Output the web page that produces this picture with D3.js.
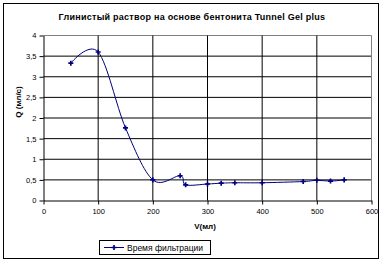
<!DOCTYPE html>
<html>
<head>
<meta charset="utf-8">
<script src="https://cdn.jsdelivr.net/npm/d3@7"></script>
<style>
  body { margin: 0; background: #fff; }
  text { font-family: "Liberation Sans", Arial, sans-serif; fill: #000; }
</style>
</head>
<body>
<div id="chart"></div>
<script>
// data
const volume = [50, 100, 150, 200, 250, 260, 300, 325, 350, 400, 475, 500, 525, 550];
const flow = [3.33, 3.6, 1.76, 0.5, 0.6, 0.38, 0.4, 0.42, 0.43, 0.43, 0.46, 0.49, 0.47, 0.5];
const xTicks = [0, 100, 200, 300, 400, 500, 600];
const yTicks = [0, 0.5, 1, 1.5, 2, 2.5, 3, 3.5, 4];
const title = "Глинистый раствор на основе бентонита Tunnel Gel plus";
const seriesName = "Время фильтрации";

const W = 382, H = 261;
const plot = {left: 43.5, right: 371.5, top: 35.5, bottom: 200.5};
const navy = "#000080";

const svg = d3.select("#chart").append("svg")
    .attr("width", W).attr("height", H);

// outer chart frame
svg.append("rect")
    .attr("x", 3.5).attr("y", 3.5)
    .attr("width", 375).attr("height", 255)
    .attr("fill", "#fff").attr("stroke", "#000");

const x = d3.scaleLinear().domain([0, 600]).range([plot.left, plot.right]);
const y = d3.scaleLinear().domain([0, 4]).range([plot.bottom, plot.top]);

// gridlines
svg.append("g").selectAll("line")
    .data(yTicks.filter(d => d > 0))
    .join("line")
    .attr("x1", plot.left).attr("x2", plot.right)
    .attr("y1", d => y(d)).attr("y2", d => y(d))
    .attr("stroke", d => d === 4 ? "#808080" : "#000");

svg.append("g").selectAll("line")
    .data(xTicks.filter(d => d > 0))
    .join("line")
    .attr("y1", plot.top).attr("y2", plot.bottom)
    .attr("x1", d => x(d)).attr("x2", d => x(d))
    .attr("stroke", d => d === 600 ? "#808080" : "#000");

// axes
const xAxis = svg.append("g")
    .attr("transform", `translate(0,${plot.bottom})`)
    .call(d3.axisBottom(x).tickValues(xTicks).tickSize(4).tickSizeOuter(0).tickPadding(4));
const yAxis = svg.append("g")
    .attr("transform", `translate(${plot.left},0)`)
    .call(d3.axisLeft(y).tickValues(yTicks).tickSize(4).tickSizeOuter(0).tickPadding(3)
        .tickFormat(d => String(d).replace(".", ",")));

[xAxis, yAxis].forEach(a => {
    a.select(".domain").attr("stroke", "#000");
    a.selectAll(".tick line").attr("stroke", "#000");
    a.selectAll(".tick text")
        .attr("font-family", "'Liberation Sans', Arial, sans-serif")
        .attr("font-size", 7.5).attr("fill", "#000");
});

// smoothed series line
const pts = volume.map((v, i) => [v, flow[i]]);
const line = d3.line()
    .x(d => x(d[0])).y(d => y(d[1]))
    .curve(d3.curveCardinal.tension(0));

svg.append("path")
    .datum(pts)
    .attr("d", line)
    .attr("fill", "none")
    .attr("stroke", navy)
    .attr("stroke-width", 1);

const marker = d3.symbol().type(d3.symbolCross).size(14);
svg.append("g").selectAll("path")
    .data(pts)
    .join("path")
    .attr("transform", d => `translate(${x(d[0])},${y(d[1])})`)
    .attr("d", marker)
    .attr("fill", navy);

// titles
svg.append("text")
    .attr("x", 192).attr("y", 20)
    .attr("text-anchor", "middle")
    .attr("font-size", 9).attr("font-weight", "bold")
    .attr("letter-spacing", 0.25)
    .text(title);

svg.append("text")
    .attr("x", 205).attr("y", 229)
    .attr("text-anchor", "middle")
    .attr("font-size", 8).attr("font-weight", "bold")
    .text("V(мл)");

svg.append("text")
    .attr("transform", "translate(21,102) rotate(-90)")
    .attr("text-anchor", "middle")
    .attr("font-size", 8).attr("font-weight", "bold")
    .text("Q (мл/с)");

// legend
const lg = svg.append("g");
lg.append("rect")
    .attr("x", 99.5).attr("y", 240.5)
    .attr("width", 111).attr("height", 14)
    .attr("fill", "#fff").attr("stroke", "#000");
lg.append("line")
    .attr("x1", 104).attr("x2", 124)
    .attr("y1", 247.5).attr("y2", 247.5)
    .attr("stroke", navy);
lg.append("path")
    .attr("transform", "translate(114,247.5)")
    .attr("d", marker)
    .attr("fill", navy);
lg.append("text")
    .attr("x", 127).attr("y", 250.5)
    .attr("font-size", 8.5)
    .text(seriesName);
</script>
</body>
</html>
